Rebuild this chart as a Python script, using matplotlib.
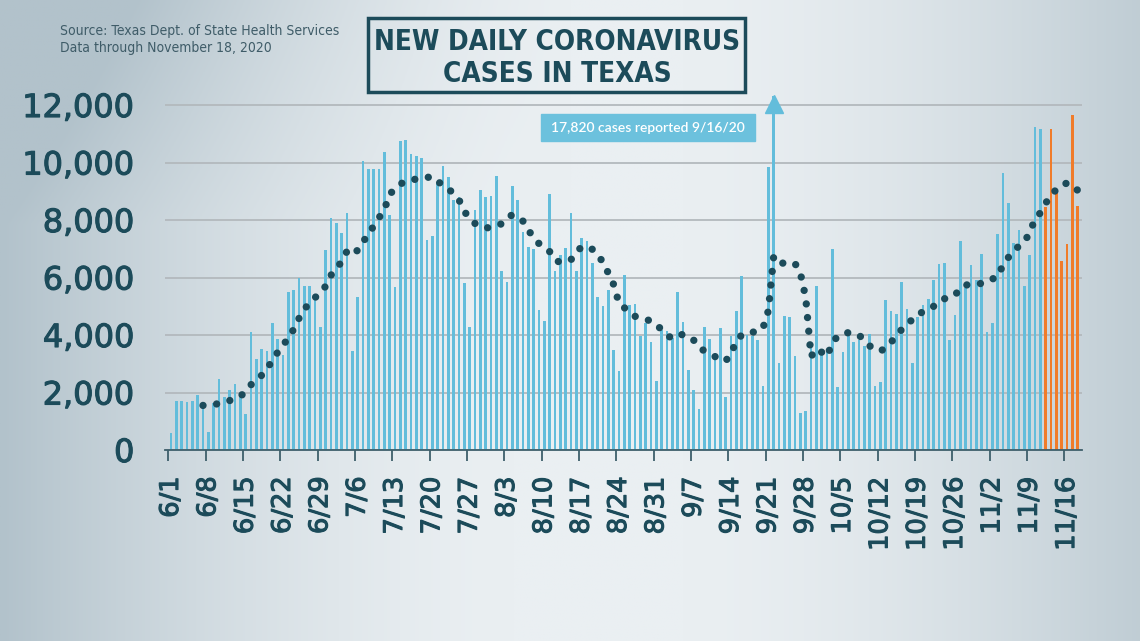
import matplotlib.pyplot as plt
import matplotlib.patheffects as pe
import numpy as np
import pandas as pd
from matplotlib.patches import Rectangle

# daily new cases, 6/1 .. 11/18/2020
dates = pd.date_range("2020-06-01", "2020-11-18", freq="D")
daily_cases = [
    600, 1700, 1700, 1660, 1700, 1930, 1600, 630, 1650, 2480,
    1830, 2100, 2310, 2000, 1250, 4120, 3150, 3520, 3460, 4420,
    3870, 3290, 5490, 5550, 5980, 5690, 5720, 5320, 4270, 6970,
    8080, 7910, 7560, 8250, 3460, 5320, 10040, 9790, 9760, 9760,
    10360, 8190, 5670, 10740, 10800, 10300, 10240, 10150, 7290, 7430,
    9320, 9870, 9490, 8710, 8800, 5810, 4270, 8360, 9060, 8800,
    8840, 9520, 6210, 5840, 9170, 8710, 7600, 7060, 6980, 4880,
    4470, 8900, 6210, 6770, 7010, 8250, 6210, 7360, 7280, 6490,
    5320, 5020, 5560, 3490, 2760, 6080, 5030, 5070, 3980, 4410,
    3770, 2390, 4180, 4150, 3890, 5490, 4460, 2800, 2070, 1420,
    4280, 3870, 3170, 4250, 1830, 3980, 4830, 6040, 4010, 3980,
    3840, 2240, 9830, 17820, 3030, 4660, 4620, 3270, 1280, 1370,
    3580, 5690, 3480, 3480, 7000, 2180, 3400, 3980, 3750, 3810,
    3630, 4040, 2240, 2380, 5220, 4830, 4740, 5860, 4900, 3040,
    4620, 5040, 5250, 5900, 6460, 6490, 3810, 4700, 7280, 5630,
    6420, 5930, 6830, 4110, 4420, 7520, 9630, 8590, 7210, 7660,
    5700, 6800, 11220, 11150, 8450, 11150, 9030, 6560, 7180, 11650,
    8490,
]

# 7-day average, 6/7 .. 11/18
avg_start = "2020-06-07"
avg_cases = [
    1550, 1570, 1590, 1610, 1680, 1720, 1780, 1860, 2050, 2270,
    2420, 2600, 2820, 3120, 3400, 3640, 3900, 4200, 4580, 4880,
    5150, 5300, 5480, 5700, 6080, 6300, 6560, 6920, 6800, 6950,
    7250, 7480, 7800, 8080, 8360, 8900, 9080, 9250, 9350, 9400,
    9420, 9430, 9480, 9510, 9350, 9200, 9080, 8920, 8700, 8300,
    8050, 7880, 7780, 7720, 7750, 7800, 7870, 8080, 8180, 8050,
    7960, 7650, 7380, 7180, 7050, 6900, 6600, 6530, 6560, 6620,
    6900, 7060, 7080, 6980, 6800, 6520, 6150, 5750, 5100, 4950,
    4760, 4650, 4590, 4550, 4480, 4380, 4170, 4000, 3870, 3950,
    4030, 3940, 3820, 3560, 3450, 3350, 3250, 3120, 3100, 3350,
    3800, 4000, 4090, 4100, 4110, 4250, 4850, 6750, 6550, 6480,
    6490, 6490, 6150, 5300, 3250, 3520, 3400, 3250, 3750, 3950,
    4060, 4080, 4070, 4000, 3800, 3620, 3500, 3440, 3550, 3740,
    4000, 4190, 4350, 4550, 4730, 4800, 4880, 5000, 5180, 5260,
    5320, 5380, 5650, 5740, 5750, 5760, 5800, 5840, 5950, 6020,
    6450, 6700, 6920, 7100, 7250, 7550, 8050, 8250, 8600, 8800,
    9090, 9200, 9290, 9200, 9030,
]

preliminary_from = "2020-11-12"   # orange bars
spike_date = "2020-09-22"
tick_labels = ["6/1", "6/8", "6/15", "6/22", "6/29", "7/6", "7/13", "7/20",
               "7/27", "8/3", "8/10", "8/17", "8/24", "8/31", "9/7", "9/14",
               "9/21", "9/28", "10/5", "10/12", "10/19", "10/26", "11/2",
               "11/9", "11/16"]
y_ticks = [0, 2000, 4000, 6000, 8000, 10000, 12000]

BLUE = "#63bddb"
ORANGE = "#f07c2a"
TEAL = "#1c4b5a"

narrow = ["DejaVu Sans"]   # used with fontstretch="condensed"
thick = [pe.withStroke(linewidth=0.8, foreground=TEAL)]

W, H = 1140, 641
fig = plt.figure(figsize=(W / 100, H / 100), dpi=100)

# background gradient
bg = fig.add_axes([0, 0, 1, 1], zorder=0)
gx, gy = np.meshgrid(np.linspace(0, 1, 400), np.linspace(0, 1, 240))
fl = np.clip((0.45 - gx) / 0.45, 0, 1) ** 1.6
fr = np.clip((gx - 0.6) / 0.4, 0, 1) ** 1.6 * 0.75
ft = np.clip((0.35 - gy) / 0.35, 0, 1) * np.clip((0.5 - gx) / 0.5, 0, 1) * 0.5
f = np.clip(fl + fr + ft, 0, 1)
center = np.array([234, 239, 242]) / 255
edge = np.array([178, 194, 203]) / 255
img = center + (edge - center) * f[..., None]
bg.imshow(img, aspect="auto", extent=[0, 1, 0, 1], origin="upper")
bg.axis("off")

ax = fig.add_axes([165 / W, 191 / H, (1082 - 165) / W, (450 - 96.4) / H], zorder=1)
ax.patch.set_alpha(0)

day = np.arange(len(daily_cases))
colors = [ORANGE if d >= pd.Timestamp(preliminary_from) else BLUE for d in dates]
ax.bar(day, daily_cases, width=0.48, color=colors, zorder=2)

avg_day = np.arange(len(avg_cases)) + (pd.Timestamp(avg_start) - dates[0]).days
ax.plot(avg_day, avg_cases, color=TEAL, lw=5.3, linestyle=(0, (0.001, 1.86)),
        dash_capstyle="round", zorder=3)

# arrow head on the clipped spike bar
spike_day = (pd.Timestamp(spike_date) - dates[0]).days
ax.plot(spike_day, 12020, marker="^", ms=13, color=BLUE, clip_on=False, zorder=3)

ax.set_xlim(-1.125, 170.8)
ax.set_ylim(0, 12300)

ax.set_yticks(y_ticks)
ax.set_yticklabels([f"{v:,}" for v in y_ticks])
ax.tick_params(axis="y", length=0, pad=22, labelsize=23, labelcolor=TEAL)
for t in ax.get_yticklabels():
    t.set_path_effects(thick)

tick_days = np.arange(0, len(daily_cases), 7)
ax.set_xticks(tick_days)
ax.set_xticklabels(tick_labels, rotation=90, fontsize=18.5, color=TEAL)
for t in ax.get_xticklabels():
    t.set_path_effects(thick)
ax.tick_params(axis="x", which="major", length=0, pad=19)
ax.set_xticks(tick_days - 0.5, minor=True)
ax.tick_params(axis="x", which="minor", length=8, width=1.3, color="#3e5f6b")

ax.grid(axis="y", color="#b3b9bd", lw=1.3, zorder=1)
ax.set_axisbelow(True)
for s in ["left", "right", "top"]:
    ax.spines[s].set_visible(False)
ax.spines["bottom"].set_color("#3e5f6b")
ax.spines["bottom"].set_linewidth(1.3)

# title box
fig.patches.append(Rectangle((368 / W, 1 - 92 / H), 377 / W, 74 / H,
                             transform=fig.transFigure, fill=False,
                             ec=TEAL, lw=2.5, zorder=5))
fig.text(557 / W, 1 - 42 / H, "NEW DAILY CORONAVIRUS", ha="center", va="center",
         fontsize=20, fontweight="bold", fontstretch="condensed", color=TEAL,
         family=narrow)
fig.text(557 / W, 1 - 74 / H, "CASES IN TEXAS", ha="center", va="center",
         fontsize=20, fontweight="bold", fontstretch="condensed", color=TEAL,
         family=narrow)

# source
fig.text(60 / W, 1 - 31 / H, "Source: Texas Dept. of State Health Services",
         ha="left", va="center", fontsize=10, fontstretch="condensed",
         color="#3f5c68", family=narrow)
fig.text(60 / W, 1 - 48 / H, "Data through November 18, 2020",
         ha="left", va="center", fontsize=10, fontstretch="condensed",
         color="#3f5c68", family=narrow)

# spike annotation
fig.patches.append(Rectangle((541 / W, 1 - 141 / H), 214 / W, 27 / H,
                             transform=fig.transFigure, color="#6cc1dd", zorder=5))
fig.text(648 / W, 1 - 127.5 / H, "17,820 cases reported 9/16/20", ha="center",
         va="center", fontsize=10, color="white", family=["Lato", "DejaVu Sans"],
         fontweight="semibold", zorder=6)

fig.savefig("out.png", dpi=100)
